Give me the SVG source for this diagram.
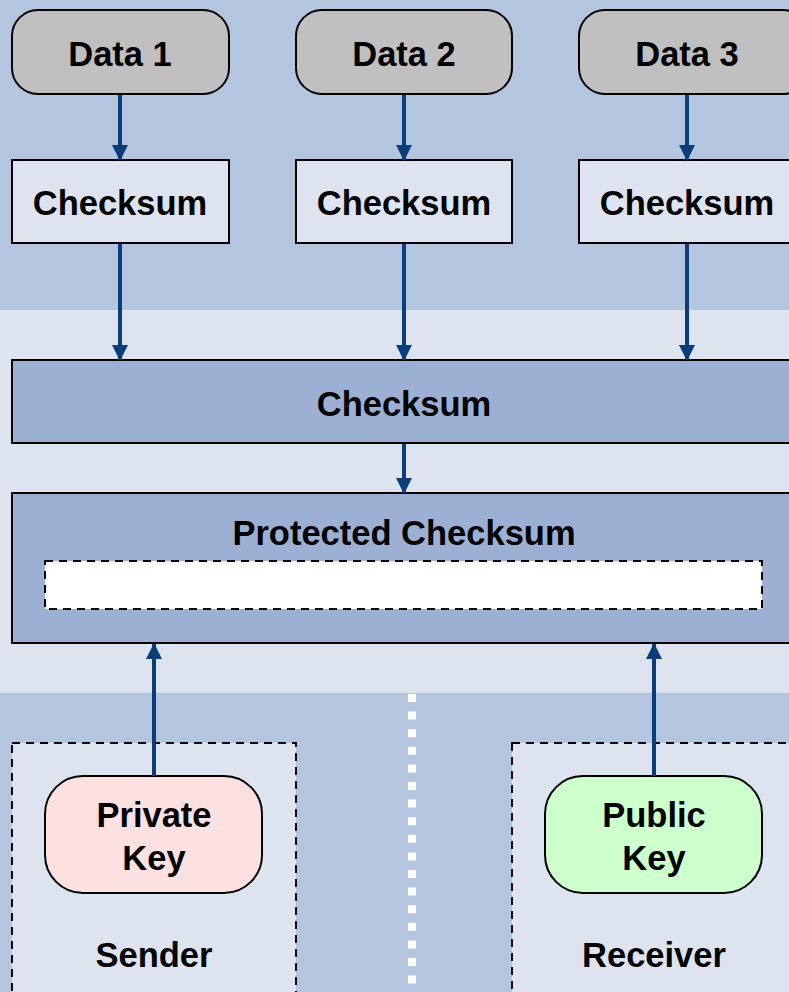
<svg xmlns="http://www.w3.org/2000/svg" width="789" height="992" viewBox="0 0 789 992">
<style>
.t{font-family:"Liberation Sans",Arial,sans-serif;font-weight:bold;font-size:34.5px;fill:#000;text-anchor:middle}
.data{fill:#c0c0c0;stroke:#000;stroke-width:2}
.cs{fill:#dde4f0;stroke:#000;stroke-width:2}
.big{fill:#9bb0d2;stroke:#000;stroke-width:2}
.conn{stroke:#0b3d78;stroke-width:4;fill:none}
.dash{stroke:#000;stroke-width:2;stroke-dasharray:8 6}
</style>
<defs>
<marker id="ah" markerWidth="17" markerHeight="16" refX="15" refY="8" orient="auto" markerUnits="userSpaceOnUse">
<path d="M0,0 L16,8 L0,16 Z" fill="#0b3d78"/>
</marker>
</defs>
<g id="bands">
<rect x="0" y="0" width="789" height="310" fill="#b4c6df"/>
<rect x="0" y="310" width="789" height="383" fill="#dde4f0"/>
<rect x="0" y="693" width="789" height="299" fill="#b4c6df"/>
<line x1="412" y1="694" x2="412" y2="992" stroke="#fff" stroke-width="8" stroke-dasharray="8 9.6"/>
</g>
<g id="sender">
<rect x="12" y="743" width="284" height="260" fill="#dde4f0" class="dash"/>
<text class="t" x="154" y="967">Sender</text>
</g>
<g id="receiver">
<rect x="512" y="743" width="290" height="260" fill="#dde4f0" class="dash"/>
<text class="t" x="654" y="967">Receiver</text>
</g>
<g id="data1"><rect class="data" x="12" y="10" width="217" height="84" rx="26"/><text class="t" x="120" y="66">Data 1</text></g>
<g id="data2"><rect class="data" x="296" y="10" width="216" height="84" rx="26"/><text class="t" x="404" y="66">Data 2</text></g>
<g id="data3"><rect class="data" x="579" y="10" width="230" height="84" rx="26"/><text class="t" x="687" y="66">Data 3</text></g>
<g id="cs1"><rect class="cs" x="12" y="160" width="217" height="83"/><text class="t" x="120" y="215">Checksum</text></g>
<g id="cs2"><rect class="cs" x="296" y="160" width="216" height="83"/><text class="t" x="404" y="215">Checksum</text></g>
<g id="cs3"><rect class="cs" x="579" y="160" width="230" height="83"/><text class="t" x="687" y="215">Checksum</text></g>
<g id="checksum"><rect class="big" x="12" y="360" width="800" height="83"/><text class="t" x="404" y="416">Checksum</text></g>
<g id="protected"><rect class="big" x="12" y="493" width="800" height="150"/><text class="t" x="404" y="545">Protected Checksum</text>
<rect x="45" y="561" width="717" height="48" fill="#fff" class="dash"/></g>
<g id="privatekey"><rect x="45" y="776" width="217" height="117" rx="38" fill="#fde0e0" stroke="#000" stroke-width="2"/><text class="t" x="154" y="827">Private</text><text class="t" x="154" y="870">Key</text></g>
<g id="publickey"><rect x="545" y="776" width="217" height="117" rx="38" fill="#ccffcc" stroke="#000" stroke-width="2"/><text class="t" x="654" y="827">Public</text><text class="t" x="654" y="870">Key</text></g>
<g id="connectors">
<line class="conn" x1="120" y1="95" x2="120" y2="160" marker-end="url(#ah)"/>
<line class="conn" x1="404" y1="95" x2="404" y2="160" marker-end="url(#ah)"/>
<line class="conn" x1="687" y1="95" x2="687" y2="160" marker-end="url(#ah)"/>
<line class="conn" x1="120" y1="244" x2="120" y2="360" marker-end="url(#ah)"/>
<line class="conn" x1="404" y1="244" x2="404" y2="360" marker-end="url(#ah)"/>
<line class="conn" x1="687" y1="244" x2="687" y2="360" marker-end="url(#ah)"/>
<line class="conn" x1="404" y1="444" x2="404" y2="493" marker-end="url(#ah)"/>
<line class="conn" x1="154" y1="776" x2="154" y2="644" marker-end="url(#ah)"/>
<line class="conn" x1="654" y1="776" x2="654" y2="644" marker-end="url(#ah)"/>
</g>
</svg>
